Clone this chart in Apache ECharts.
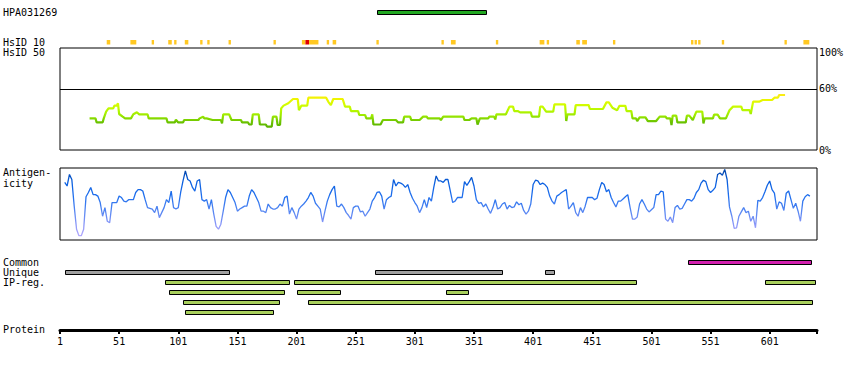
<!DOCTYPE html>
<html><head><meta charset="utf-8">
<script src="https://cdn.jsdelivr.net/npm/echarts@6/dist/echarts.min.js"></script>
<style>html,body{margin:0;padding:0;background:#fff}#c{width:850px;height:370px}</style>
</head><body><div id="c"></div>
<script>
// ---------------- data ----------------
const proteinLength = 641;
const proteinTicks = [1,51,101,151,201,251,301,351,401,451,501,551,601];
const antigenName = 'HPA031269';
const antigenStart = [269];
const antigenEnd = [361];

// HsID 10 hits (residue ranges); level 1 = normal, 2 = high
const hsid10Start = [41,61,79,93,98,107,120,126,144,182,206,209,212,227,232,269,324,332,370,407,413,438,443,469,535,538,541,561,614,630];
const hsid10End   = [43,65,80,95,99,109,121,127,145,183,208,211,219,228,234,270,325,335,371,410,414,440,446,470,536,539,542,562,615,634];
const hsid10Level = [1,1,1,1,1,1,1,1,1,1,1,2,1,1,1,1,1,1,1,1,1,1,1,1,1,1,1,1,1,1];

// HsID 50 (% identity) profile
const hsid50Res = [26,31,32,37,38,40,42,46,47,49,50,51,54,56,61,63,66,68,75,76,91,92,98,99,101,105,106,118,119,122,123,125,130,137,138,139,144,146,154,155,160,161,163,164,169,170,175,176,180,181,184,185,187,188,190,194,198,202,203,205,210,211,226,228,230,232,240,242,246,247,253,254,259,260,264,265,266,272,274,285,287,291,292,297,298,305,308,311,312,322,323,325,342,343,347,349,353,354,356,363,364,368,369,370,378,381,384,385,388,390,399,400,406,407,409,412,418,419,428,429,430,436,437,448,449,460,463,465,468,472,474,479,480,484,485,488,489,491,496,498,505,508,513,514,517,518,519,522,523,530,531,533,536,539,544,545,546,553,554,557,559,564,567,570,577,578,584,585,587,592,595,603,605,608,609,614];
const hsid50Val = [31,31,27,27,31,37.6,40.8,40.8,43.5,43.5,45.8,35.3,32.7,31,31,35,37,35,35,31,31,27,27,29.7,27,27,29.4,29.4,31,32.7,31,31,29.4,29.4,26,35,35,29.4,29.4,27,27,25,25,35,35,25,25,23,23,32.7,32.7,24.5,24.5,40.8,43.5,45.8,50,50,39,43.5,43.5,51.3,51.3,47,44,50,50,42.5,42.5,38.2,38.2,34.3,34.3,31,31,35,25,25,29.4,29.4,27,27,32.7,32.7,29.4,29.4,32.7,32.7,31,31,29.4,32.7,32.7,29.4,29.4,31,31,25,31,31,32.7,32.7,30,35,35,42.5,42.5,38.2,38.2,36.9,36.9,32.7,32.7,42.5,42.5,37.6,37.6,44.8,44.8,28.4,35,35,44,44,40.2,40.2,46.7,46.7,41.5,39,43.3,43.3,38.2,38.2,31,31,28.4,32,32,28.4,28.4,32.7,32.7,31,31,24.5,33.7,33.7,27,27,33.7,33.7,29.4,37.6,37.6,26,31,31,34.6,34.6,31,31,39,42.5,42.5,39,39,35.3,47.4,47.4,49,49,51.3,51.3,53.9,53.9];

// Antigenicity profile: residues 5,7,9,... (every 2nd residue)
const antigenicityFirstResidue = 5;
const antigenicityResidueStep = 2;
const antigenicityVal = [80,75,91,84,47,15,6,6,15,60,66,73,63,63,61,52,33,45,26,24,52,52,52,61,59,54,53,56,56,56,66,70,70,68,56,45,44,43,38,47,31,38,45,56,52,68,45,43,45,66,82,96,84,82,73,68,82,84,56,54,56,43,56,36,19,15,22,40,59,70,66,59,52,40,43,45,47,47,61,70,66,59,52,40,40,38,50,45,43,43,45,50,47,59,61,36,45,38,29,43,47,50,54,59,66,61,
51,47,43,25,40,54,63,70,75,47,46,50,45,38,34,29,45,47,47,39,40,33,38,43,54,59,66,67,61,43,56,59,61,84,75,80,79,77,73,77,66,58,52,47,38,45,56,45,59,54,73,89,82,82,80,84,84,68,52,54,59,59,59,81,76,81,87,75,56,51,52,46,50,43,37,45,56,43,45,50,52,43,48,45,46,53,49,51,41,36,40,50,77,83,82,77,79,77,73,61,54,50,61,63,
66,68,70,43,47,52,38,33,45,38,47,59,59,59,56,58,70,80,77,67,70,59,52,46,54,54,57,60,63,45,29,29,32,50,56,50,43,39,42,45,63,63,68,67,29,26,32,24,45,48,43,44,50,56,56,54,58,66,70,79,83,81,70,66,69,73,91,93,90,98,84,46,33,16,17,33,39,45,38,40,26,33,17,55,54,59,67,76,82,70,65,43,53,51,41,65,68,56,44,51,40,26,54,60,63,61];

// Region bars: rows 0 = Common, 1 = Unique, 2..5 = IP-reg.
const rowLabels = ['Common','Unique','IP-reg.'];
const commonStart = [532], commonEnd = [636];
const uniqueStart = [5,267,411], uniqueEnd = [144,374,419];
const ipStart = [90,199,597,93,201,327,105,211,107];
const ipEnd   = [195,488,639,190,237,346,186,637,181];
const ipLane  = [0,0,0,1,1,1,2,2,3];

// ---------------- build ----------------
const FONT = '"DejaVu Sans Mono", monospace';
const chart = echarts.init(document.getElementById('c'), null, {renderer:'svg'});

const grids = [
  {left:60, width:757, top:10, height:5},
  {left:60, width:757, top:40, height:4.5},
  {left:60, width:757, top:48, height:102, show:true, borderColor:'#000', borderWidth:1},
  {left:60, width:757, top:168, height:72, show:true, borderColor:'#000', borderWidth:1},
  {left:60, width:757, top:257, height:60},
  {left:60, width:757, top:320, height:10}
];
const xAxes = grids.map((g,i)=>({type:'value', gridIndex:i, min:1, max:proteinLength, show:false}));
xAxes[5] = {
  type:'value', gridIndex:5, min:1, max:proteinLength, show:true,
  axisLine:{show:true, lineStyle:{color:'#000', width:3}},
  axisTick:{show:true, length:4, lineStyle:{color:'#000', width:2}, customValues:proteinTicks.concat([proteinLength])},
  axisLabel:{show:true, customValues:proteinTicks, color:'#000', fontFamily:FONT, fontSize:10, margin:6},
  splitLine:{show:false}
};
const yAxes = [
  {type:'value', gridIndex:0, min:0, max:1, show:false},
  {type:'value', gridIndex:1, min:0, max:1, show:false},
  {type:'value', gridIndex:2, min:0, max:100, position:'right',
    axisLine:{show:false}, axisTick:{show:false}, splitLine:{show:false},
    axisLabel:{customValues:[0,60,100], margin:2, color:'#000', fontFamily:FONT, fontSize:10,
      formatter:v=> v===100 ? '{t|100%}' : v+'%',
      rich:{t:{padding:[9,0,0,0], color:'#000', fontFamily:FONT, fontSize:10}}}},
  {type:'value', gridIndex:3, min:0, max:100, show:false},
  {type:'value', gridIndex:4, min:-0.5, max:5.5, inverse:true,
    axisLine:{show:false}, axisTick:{show:false}, splitLine:{show:false},
    axisLabel:{customValues:[0,1,2], formatter:v=>rowLabels[v]||'', align:'left', margin:57, color:'#000', fontFamily:FONT, fontSize:10}},
  {type:'value', gridIndex:5, min:0, max:1, show:false}
];

function spanRect(params, api){
  const a = api.coord([api.value(0)-0.5, 1]);
  const b = api.coord([api.value(1)+0.5, 0]);
  return {type:'rect', shape:{x:a[0], y:a[1], width:b[0]-a[0], height:b[1]-a[1]}, style:{fill:api.visual('color')}};
}
function outlinedRect(params, api){
  const a = api.coord([api.value(0), 1]);
  const b = api.coord([api.value(1), 0]);
  return {type:'rect', shape:{x:Math.round(a[0])+0.5, y:Math.round(a[1])+0.5, width:Math.round(b[0]-a[0]), height:Math.round(b[1]-a[1])-1}, style:{fill:api.visual('color'), stroke:'#000', lineWidth:1}};
}
function laneRect(params, api){
  const a = api.coord([api.value(0), api.value(2)]);
  const b = api.coord([api.value(1), api.value(2)]);
  const h = 4;
  return {type:'rect', shape:{x:Math.round(a[0])+0.5, y:Math.round(a[1]-h/2)+0.5, width:Math.round(b[0]-a[0]), height:h}, style:{fill:api.visual('color'), stroke:'#000', lineWidth:1}};
}

const antigenData = antigenStart.map((s,i)=>({value:[s, antigenEnd[i]], itemStyle:{color:'#22a822'}}));
const hsid10Data = hsid10Start.map((s,i)=>({value:[s, hsid10End[i]], itemStyle:{color: hsid10Level[i]===2 ? '#e00000' : '#ffc822'}}));
const hsid50Data = hsid50Res.map((r,i)=>[r, hsid50Val[i]]);
const antData = antigenicityVal.map((v,i)=>[antigenicityFirstResidue + i*antigenicityResidueStep, v]);
const laneData = []
  .concat(commonStart.map((s,i)=>({value:[s, commonEnd[i], 0], itemStyle:{color:'#d21fae'}})))
  .concat(uniqueStart.map((s,i)=>({value:[s, uniqueEnd[i], 1], itemStyle:{color:'#a0a0a0'}})))
  .concat(ipStart.map((s,i)=>({value:[s, ipEnd[i], 2+ipLane[i]], itemStyle:{color:'#a8cf5c'}})));

const txt = (t, y) => ({type:'text', x:3, y:y, silent:true, style:{text:t, fill:'#000', font:'10px '+FONT, verticalAlign:'middle', align:'left'}});

chart.setOption({
  animation:false,
  backgroundColor:'#fff',
  grid:grids, xAxis:xAxes, yAxis:yAxes,
  visualMap:[
    {type:'continuous', show:false, seriesIndex:2, dimension:1, min:22, max:56,
      inRange:{color:['#58b000','#6cc400','#99e800','#b8f800','#d4fc00','#f0f400','#ffe820']}},
    {type:'continuous', show:false, seriesIndex:3, dimension:1, min:0, max:100,
      inRange:{color:['#c2b0ff','#8e98f8','#5586f2','#2170ee','#0b60e0','#0040a0']}}
  ],
  graphic:[txt(antigenName,12.5), txt('HsID 10',42.5), txt('HsID 50',52.5), txt('Antigen-',172.5), txt('icity',183), txt('Protein',329.5)],
  series:[
    {type:'custom', xAxisIndex:0, yAxisIndex:0, renderItem:outlinedRect, data:antigenData, silent:true},
    {type:'custom', xAxisIndex:1, yAxisIndex:1, renderItem:spanRect, data:hsid10Data, silent:true},
    {type:'line', xAxisIndex:2, yAxisIndex:2, data:hsid50Data, showSymbol:false, lineStyle:{width:2.2}, silent:true,
      markLine:{silent:true, symbol:['none','none'], label:{show:false}, lineStyle:{color:'#000', width:1, type:'solid'}, data:[{yAxis:60}]}},
    {type:'line', xAxisIndex:3, yAxisIndex:3, data:antData, showSymbol:false, lineStyle:{width:1.3}, silent:true},
    {type:'custom', xAxisIndex:4, yAxisIndex:4, renderItem:laneRect, data:laneData, silent:true}
  ]
});
</script></body></html>
